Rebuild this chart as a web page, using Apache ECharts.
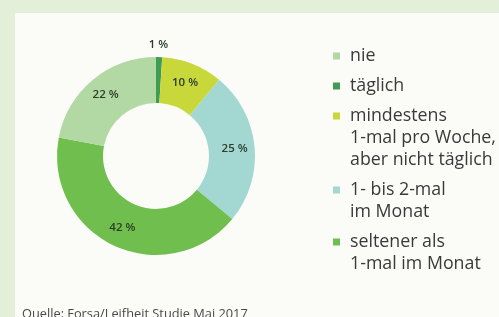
<!DOCTYPE html>
<html>
<head>
<meta charset="utf-8">
<script src="https://cdn.jsdelivr.net/npm/echarts@6/dist/echarts.min.js"></script>
<style>
  html, body { margin: 0; padding: 0; }
  #chart { width: 499px; height: 317px; }
</style>
</head>
<body>
<div id="chart"></div>
<script>
// slices, clockwise from 12 o'clock
const sliceNames = ['täglich', 'mindestens', '1- bis 2-mal', 'seltener', 'nie'];
const sliceValues = [1, 10, 25, 42, 22];
const sliceColors = ['#3f9b55', '#c8d83a', '#a2d8d1', '#70be4e', '#b2d8a3'];

// legend order and wrapped text
const legendOrder = ['nie', 'täglich', 'mindestens', '1- bis 2-mal', 'seltener'];
const legendLines = {
  'nie': ['nie'],
  'täglich': ['täglich'],
  'mindestens': ['mindestens', '1-mal pro Woche,', 'aber nicht täglich'],
  '1- bis 2-mal': ['1- bis 2-mal', 'im Monat'],
  'seltener': ['seltener als', '1-mal im Monat']
};

const sourceText = 'Quelle: Forsa/Leifheit Studie Mai 2017';

const chart = echarts.init(document.getElementById('chart'), null, { renderer: 'canvas' });

const rich = {
  t: { fontSize: 17.8, lineHeight: 22, color: '#3a3a3a', fontFamily: 'Open Sans', padding: [0, 0, 0, 10] },
  ind: { width: 7, lineHeight: 22 }
};
sliceNames.forEach((n, i) => {
  rich['sq' + i] = { width: 7, height: 7, backgroundColor: sliceColors[i] };
});

const option = {
  backgroundColor: '#e3efd8',
  animation: false,
  graphic: [{
    type: 'rect',
    shape: { x: 15, y: 13, width: 484, height: 304 },
    style: { fill: '#fbfcf7' },
    z: -10
  }],
  title: {
    text: sourceText,
    left: 17,
    top: 303,
    textStyle: { fontSize: 12.8, fontWeight: 'normal', color: '#4a4a4a', fontFamily: 'Open Sans' }
  },
  legend: {
    orient: 'vertical',
    left: 323,
    top: 42,
    itemWidth: 0,
    itemHeight: 0,
    itemGap: 12,
    itemStyle: { opacity: 0 },
    selectedMode: false,
    data: legendOrder,
    formatter: name => {
      const idx = sliceNames.indexOf(name);
      return legendLines[name].map((line, k) =>
        (k === 0 ? '{sq' + idx + '|}' : '{ind|}') + '{t|' + line + '}'
      ).join('\n');
    },
    textStyle: { rich: rich }
  },
  series: [{
    type: 'pie',
    center: [156, 156],
    radius: [53, 99],
    startAngle: 90,
    clockwise: true,
    avoidLabelOverlap: false,
    itemStyle: { borderWidth: 0 },
    emphasis: { disabled: true },
    label: {
      show: true,
      position: 'inside',
      formatter: '{c} %',
      fontSize: 11.5,
      fontWeight: 600,
      fontFamily: 'Open Sans',
      color: '#2d3b2b'
    },
    labelLine: { show: false },
    data: sliceNames.map((n, i) => {
      const d = { name: n, value: sliceValues[i], itemStyle: { color: sliceColors[i] } };
      if (i === 0) d.label = { offset: [0, -32] };
      return d;
    })
  }]
};

chart.setOption(option);
</script>
</body>
</html>
